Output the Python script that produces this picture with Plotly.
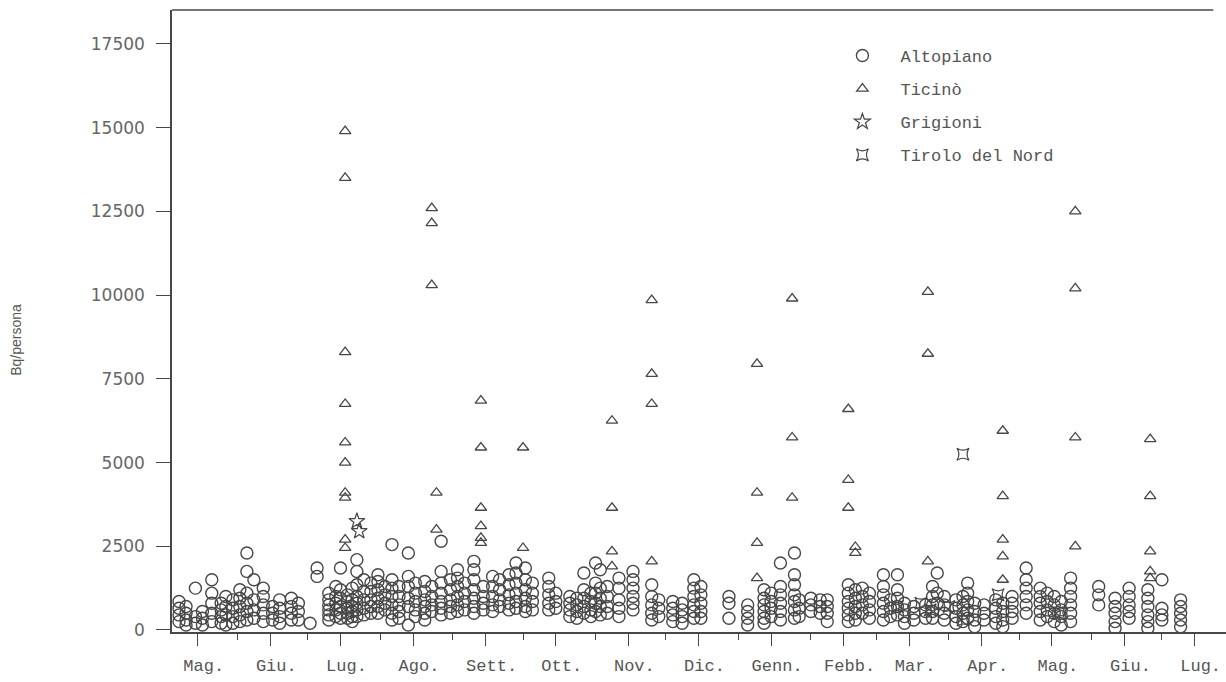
import datetime as dt
import plotly.graph_objects as go

# Day 0 of the measurement series
START = dt.date(1986, 5, 1)

month_labels = ["Mag.", "Giu.", "Lug.", "Ago.", "Sett.", "Ott.", "Nov.", "Dic.",
                "Genn.", "Febb.", "Mar.", "Apr.", "Mag.", "Giu.", "Lug."]
y_ticks = [0, 2500, 5000, 7500, 10000, 12500, 15000, 17500]
y_tick_labels = [str(v) for v in y_ticks]

# Altopiano: measurement day (days since 1 May 1986) and the values of that day (Bq/persona)
altopiano_days = [6, 9, 13, 16, 20, 24, 26, 29,
                  32, 35, 38, 42, 46, 49, 54, 57,
                  62, 65, 70, 73, 75, 78, 80, 82, 85, 88, 91,
                  94, 97, 100, 104, 107, 111, 114, 118, 122,
                  125, 128, 132, 136, 140, 143, 147, 150,
                  154, 157, 164, 167, 173, 176, 179, 182,
                  184, 186, 189, 194, 200, 208, 211,
                  217, 221, 226, 229, 241,
                  249, 256, 259, 263, 269, 271, 276,
                  280, 283, 292, 295, 298, 301,
                  307, 310, 313, 316, 320, 325, 328, 330, 333,
                  338, 341, 343, 346, 350, 355, 358, 362,
                  368, 374, 377, 380, 383, 387,
                  399, 406, 412,
                  420, 426, 434]
altopiano_values = [
    [850, 650, 450, 250], [700, 500, 300, 150], [1250, 400, 200], [550, 350, 150],
    [1500, 1100, 800, 500, 250], [800, 600, 400, 200], [1000, 700, 450, 150], [900, 650, 400, 200],
    [1200, 950, 700, 450, 250], [2300, 1750, 1100, 800, 550, 300], [1500, 900, 600, 350],
    [1250, 1000, 750, 500, 250], [700, 500, 300], [900, 650, 400, 200], [950, 700, 500, 300],
    [800, 550, 300],
    [200], [1850, 1600], [1100, 900, 750, 600, 450, 300], [1300, 1000, 800, 600, 400],
    [1850, 1200, 950, 700, 500, 350], [1050, 850, 650, 500, 350], [1250, 900, 700, 550, 400, 250],
    [2100, 1750, 1350, 1000, 800, 600, 400], [1500, 1150, 900, 650, 450], [1400, 1150, 900, 700, 500],
    [1650, 1450, 1200, 950, 700, 500],
    [1300, 1050, 800, 600], [2550, 1500, 1250, 1000, 750, 500, 300], [1300, 1000, 750, 550, 350],
    [2300, 1600, 1300, 950, 700, 150], [1400, 1100, 850, 600, 400], [1450, 1150, 900, 700, 500, 300],
    [1300, 1000, 750, 550], [2650, 1750, 1400, 1100, 850, 650, 450], [1500, 1200, 900, 700, 500],
    [1800, 1550, 1300, 1000, 750, 550], [1400, 1100, 850, 600], [2050, 1800, 1500, 1200, 950, 700, 500],
    [1300, 1000, 800, 600], [1600, 1300, 1000, 750, 550], [1500, 1200, 900, 700],
    [1650, 1350, 1050, 800, 600], [2000, 1700, 1400, 1100, 850, 650],
    [1850, 1500, 1200, 950, 700, 550], [1400, 1100, 850, 600], [1550, 1300, 1050, 800, 600],
    [1100, 850, 650], [1000, 800, 600, 400], [950, 750, 550, 350], [1700, 1200, 950, 700, 500],
    [1100, 850, 600, 400],
    [2000, 1400, 1100, 800, 550], [1800, 1250, 950, 700, 450], [1300, 1000, 700, 500],
    [1550, 1250, 900, 650, 400], [1750, 1500, 1250, 1000, 800, 600], [1350, 1000, 750, 500, 300],
    [900, 650, 400],
    [850, 650, 450, 250], [800, 600, 400, 200], [1500, 1250, 1000, 750, 550, 350],
    [1300, 1050, 800, 550, 350], [1000, 800, 350],
    [750, 550, 350, 150], [1200, 950, 750, 550, 350, 200], [1100, 850, 650, 400],
    [2000, 1300, 1050, 800, 550, 300], [2300, 1650, 1350, 1050, 850, 600, 350], [900, 650, 400],
    [950, 750, 550],
    [900, 700, 500], [900, 700, 500, 250], [1350, 1100, 850, 650, 450, 250], [1200, 950, 700, 500, 300],
    [1250, 1000, 750, 500], [1100, 850, 600, 350],
    [1650, 1300, 1050, 800, 550, 300], [900, 650, 400], [1650, 1200, 950, 700, 450], [800, 600, 400, 200],
    [700, 500, 300], [750, 550, 350], [1300, 1000, 750, 550, 350], [1700, 1100, 800], [1000, 750, 500, 300],
    [900, 650, 400, 200], [1000, 750, 500, 250], [1400, 1100, 850, 600, 350], [800, 550, 300, 100],
    [750, 500, 300], [900, 650, 400, 200], [800, 550, 300, 100], [1000, 800, 550, 350],
    [1850, 1500, 1250, 1000, 750, 500], [1250, 1000, 800, 550, 300], [1100, 850, 600, 400],
    [1000, 750, 500, 250], [850, 600, 400, 150], [1550, 1250, 1000, 750, 500, 250],
    [1300, 1050, 750], [950, 700, 500, 250, 50], [1250, 1000, 750, 550, 350],
    [1200, 950, 700, 450, 250, 50], [1500, 650, 450, 300], [900, 700, 500, 300, 100],
]

# Ticino
ticino_days = [77, 114, 116, 135, 153, 191, 208, 253, 268, 292, 295, 326, 358, 389, 421]
ticino_values = [
    [14900, 13500, 8300, 6750, 5600, 5000, 4100, 3950, 2700, 2450],
    [12600, 12150, 10300],
    [4100, 3000],
    [6850, 5450, 3650, 3100, 2750, 2600],
    [5450, 2450],
    [6250, 3650, 2350, 1900],
    [9850, 7650, 6750, 2050],
    [7950, 4100, 2600, 1550],
    [9900, 5750, 3950],
    [6600, 4480, 3650],
    [2480, 2300],
    [10100, 8250, 2050],
    [5950, 4000, 2700, 2200, 1500],
    [12500, 10200, 5750, 2500],
    [5700, 4000, 2350, 1750, 1550],
]

# Grigioni
grigioni_days = [82, 83]
grigioni_values = [3250, 2950]

# Tirolo del Nord
tirolo_days = [313, 323, 327, 335, 341, 341, 356, 382]
tirolo_values = [700, 800, 600, 700, 5250, 300, 1050, 500]


def flatten(days, groups):
    xs, ys = [], []
    for d, vals in zip(days, groups):
        for v in vals:
            xs.append(d)
            ys.append(v)
    return xs, ys


def month_offset(year, month, k):
    m = month - 1 + k
    return year + m // 12, m % 12 + 1


# Labelled ticks in the middle of each month, short ticks at month boundaries
major_ticks = []
for k in range(len(month_labels)):
    y, m = month_offset(1986, 5, k)
    major_ticks.append((dt.date(y, m, 15) - START).days)
minor_ticks = []
for k in range(1, len(month_labels) + 1):
    y, m = month_offset(1986, 5, k)
    minor_ticks.append((dt.date(y, m, 1) - START).days)

INK = "#474747"
MONO = "Liberation Mono, Courier New, monospace"

fig = go.Figure()

ax, ay = flatten(altopiano_days, altopiano_values)
tx, ty = flatten(ticino_days, ticino_values)

fig.add_trace(go.Scatter(
    x=ax, y=ay, mode="markers", name="Altopiano", legendgroup="a",
    marker=dict(symbol="circle-open", size=12, color=INK, line=dict(width=1.4, color=INK)),
))
fig.add_trace(go.Scatter(
    x=tx, y=ty, mode="markers", name="Ticinò", legendgroup="t",
    marker=dict(symbol="triangle-up-open", size=10, color=INK, line=dict(width=1.3, color=INK)),
))
fig.add_trace(go.Scatter(
    x=grigioni_days, y=grigioni_values, mode="markers", name="Grigioni", legendgroup="g",
    marker=dict(symbol="star-open", size=12, color=INK, line=dict(width=1.2, color=INK)),
))
fig.add_trace(go.Scatter(
    x=tirolo_days, y=tirolo_values, mode="markers", name="Tirolo del Nord", legendgroup="n",
    marker=dict(symbol="star-square-open", size=11, color=INK, line=dict(width=1.2, color=INK)),
))

fig.update_layout(
    width=1226, height=682, autosize=False,
    margin=dict(l=172, r=0, t=10, b=50),
    paper_bgcolor="white", plot_bgcolor="white",
    showlegend=True,
    legend=dict(
        x=0.619, y=0.955, xanchor="left", yanchor="top",
        font=dict(family=MONO, size=17, color="#555"),
        bgcolor="rgba(0,0,0,0)", tracegroupgap=8, itemwidth=66,
    ),
    xaxis=dict(
        range=[3, 453.4], showgrid=False, zeroline=False,
        showline=True, linecolor=INK, linewidth=1.5,
        tickmode="array", tickvals=major_ticks, ticktext=month_labels,
        ticks="outside", ticklen=12, tickwidth=1.3, tickcolor=INK,
        ticklabelshift=6, ticklabelstandoff=5,
        tickfont=dict(family=MONO, size=17, color="#555"),
        minor=dict(tickvals=minor_ticks, ticks="outside", ticklen=6, tickwidth=1.2, tickcolor=INK),
    ),
    yaxis=dict(
        range=[-60, 18515], showgrid=False, zeroline=False,
        showline=True, linecolor=INK, linewidth=1.5,
        tickmode="array", tickvals=y_ticks, ticktext=y_tick_labels,
        ticks="outside", ticklen=14, tickwidth=1.3, tickcolor=INK,
        ticklabelstandoff=8,
        tickfont=dict(family="DejaVu Sans, sans-serif", size=17, color="#666"),
    ),
    shapes=[dict(type="line", xref="paper", yref="paper", x0=0, x1=0.988, y0=1, y1=1,
                 line=dict(color=INK, width=1.5))],
    annotations=[dict(text="Bq/persona", xref="paper", yref="paper", x=-0.157, y=0.469,
                      textangle=-90, showarrow=False,
                      font=dict(family="Liberation Sans, sans-serif", size=14, color="#555"))],
)

fig.write_html("out.html")
